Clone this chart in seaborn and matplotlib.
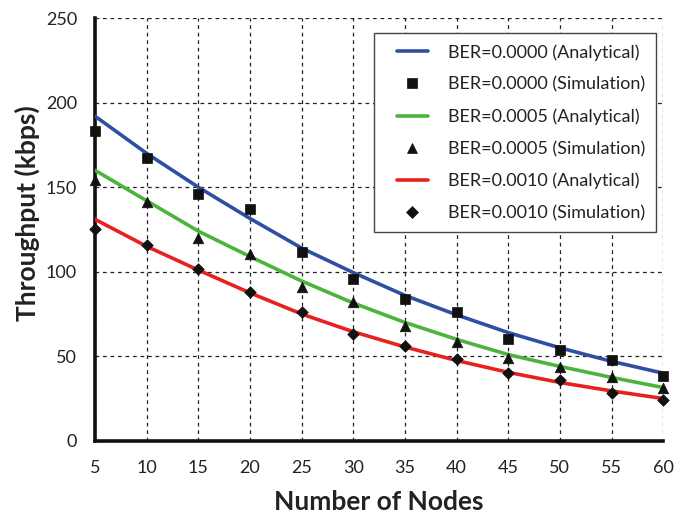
import numpy as np
import pandas as pd
import matplotlib
matplotlib.use("Agg")
import matplotlib.pyplot as plt
from matplotlib.lines import Line2D
from matplotlib.legend_handler import HandlerLine2D
import seaborn as sns

# Number of nodes in the network
nodes = [5, 10, 15, 20, 25, 30, 35, 40, 45, 50, 55, 60]

# Analytical throughput (kbps)
ana_ber0000 = [192, 170, 150, 131.5, 114, 99.5, 86, 74.5, 64, 55, 47, 40]
ana_ber0005 = [160, 142, 124, 109, 94.5, 81.5, 70, 60, 51, 44, 37.5, 31.5]
ana_ber0010 = [131, 115, 101, 87.5, 75, 64.5, 55.5, 47.5, 40.5, 34.5, 29.5, 25]

# Simulated throughput (kbps)
sim_ber0000 = [183, 167, 146, 137, 111.5, 96, 84, 76, 60.5, 53.5, 48, 38.5]
sim_ber0005 = [154.5, 141, 120, 110.5, 91, 82, 68, 58.5, 49, 43.5, 37.5, 31]
sim_ber0010 = [125, 116, 101.5, 88, 76, 63, 56, 48.5, 40, 36, 28, 24]

ber_labels = ["BER=0.0000", "BER=0.0005", "BER=0.0010"]
line_colors = ["#2f4fa3", "#4cb43c", "#e8211f"]
sim_markers = ["s", "^", "D"]

sns.set_theme(style="white")
plt.rcParams["font.family"] = ["Lato", "DejaVu Sans"]

fig = plt.figure(figsize=(6.74, 5.18), dpi=100)
ax = fig.add_axes([0.141, 0.149, 0.843, 0.816])

analytic = [ana_ber0000, ana_ber0005, ana_ber0010]
simulated = [sim_ber0000, sim_ber0005, sim_ber0010]
marker_pts = [7.0, 7.6, 5.9]

handles = []
for lab, col, mk, ana, sim, mp in zip(ber_labels, line_colors, sim_markers,
                                      analytic, simulated, marker_pts):
    df_a = pd.DataFrame({"Nodes": nodes, "Throughput": ana})
    df_s = pd.DataFrame({"Nodes": nodes, "Throughput": sim})
    sns.lineplot(data=df_a, x="Nodes", y="Throughput", ax=ax, color=col,
                 linewidth=2.6, zorder=3)
    sns.scatterplot(data=df_s, x="Nodes", y="Throughput", ax=ax, color="#111111",
                    marker=mk, s=mp ** 2, edgecolor="#111111", linewidth=0.5,
                    zorder=4, clip_on=False)
    handles.append(Line2D([], [], color=col, linewidth=2.6,
                          label=f"{lab} (Analytical)"))
    handles.append(Line2D([], [], color="#111111", marker=mk, linestyle="none",
                          markersize=mp, markeredgewidth=0.5,
                          label=f"{lab} (Simulation)"))

ax.set_xlim(5, 60)
ax.set_ylim(0, 250)
ax.set_xticks(range(5, 61, 5))
ax.set_yticks(range(0, 251, 50))

ax.grid(True, color="#222222", linestyle=(0, (3, 3)), linewidth=0.9)
ax.set_axisbelow(True)
for side in ["top", "right"]:
    ax.spines[side].set_visible(False)
for side in ["left", "bottom"]:
    ax.spines[side].set_color("#111111")
    ax.spines[side].set_linewidth(2.6)

ax.tick_params(axis="both", direction="in", length=5, width=2, colors="#111111",
               labelsize=13, labelcolor="#222222")
ax.tick_params(axis="y", pad=13)
ax.tick_params(axis="x", pad=14)

ax.set_xlabel("Number of Nodes", fontsize=19, fontweight="bold", color="#222222",
              labelpad=10)
ax.set_ylabel("Throughput (kbps)", fontsize=19, fontweight="bold", color="#222222")
ax.yaxis.set_label_coords(-0.097, 0.539)

leg = ax.legend(handles=handles, loc="upper right", bbox_to_anchor=(0.988, 0.9645),
                fontsize=13, frameon=True, fancybox=False, handlelength=2.35,
                handletextpad=1.15, labelspacing=0.88, borderpad=0.6,
                borderaxespad=0.0,
                handler_map={Line2D: HandlerLine2D(xpad=0.65)})
leg.get_frame().set_edgecolor("#444444")
leg.get_frame().set_linewidth(1.0)
leg.get_frame().set_facecolor("white")
leg.get_frame().set_alpha(1)
for t in leg.get_texts():
    t.set_color("#222222")

fig.savefig("out.png", dpi=100)
